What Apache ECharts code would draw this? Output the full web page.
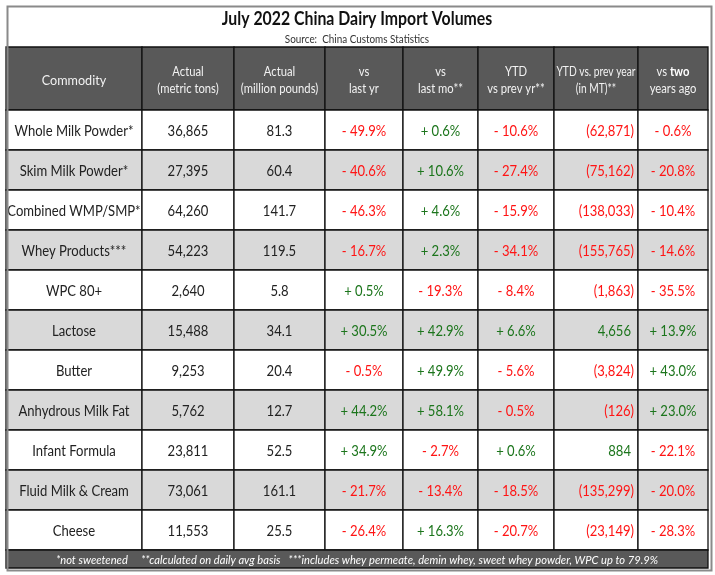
<!DOCTYPE html>
<html><head><meta charset="utf-8">
<script src="https://cdn.jsdelivr.net/npm/echarts@6/dist/echarts.min.js"></script>
<style>html,body{margin:0;padding:0;background:#fff}#c{width:715px;height:575px}</style>
</head><body><div id="c"></div>
<script>
// ---------- DATA ----------
const titleText = 'July 2022 China Dairy Import Volumes';
const sourceText = 'Source:  China Customs Statistics';
const headers = ['Commodity', 'Actual\n(metric tons)', 'Actual\n(million pounds)', 'vs\nlast yr', 'vs\nlast mo**', 'YTD\nvs prev yr**', 'YTD vs. prev year\n(in MT)**', 'vs {b|two}\nyears ago'];
const commodities = ['Whole Milk Powder*', 'Skim Milk Powder*', 'Combined WMP/SMP*', 'Whey Products***', 'WPC 80+', 'Lactose', 'Butter', 'Anhydrous Milk Fat', 'Infant Formula', 'Fluid Milk & Cream', 'Cheese'];
const metricTons = [36865, 27395, 64260, 54223, 2640, 15488, 9253, 5762, 23811, 73061, 11553];
const millionPounds = [81.3, 60.4, 141.7, 119.5, 5.8, 34.1, 20.4, 12.7, 52.5, 161.1, 25.5];
const vsLastYr = [-49.9, -40.6, -46.3, -16.7, 0.5, 30.5, -0.5, 44.2, 34.9, -21.7, -26.4];
const vsLastMo = [0.6, 10.6, 4.6, 2.3, -19.3, 42.9, 49.9, 58.1, -2.7, -13.4, 16.3];
const ytdVsPrevYr = [-10.6, -27.4, -15.9, -34.1, -8.4, 6.6, -5.6, -0.5, 0.6, -18.5, -20.7];
const ytdVsPrevYearMT = [-62871, -75162, -138033, -155765, -1863, 4656, -3824, -126, 884, -135299, -23149];
const vsTwoYearsAgo = [-0.6, -20.8, -10.4, -14.6, -35.5, 13.9, 43.0, 23.0, -22.1, -20.0, -28.3];
const footnote = '*not sweetened     **calculated on daily avg basis   ***includes whey permeate, demin whey, sweet whey powder, WPC up to 79.9%';

// ---------- LAYOUT ----------
const colWidths = [136, 92, 91, 78, 75, 76, 84, 70];
const headerHeight = 63, rowHeight = 40, footerHeight = 18;
const colEdges = [0];
colWidths.forEach(w => colEdges.push(colEdges[colEdges.length - 1] + w));
const rowEdges = [0, headerHeight];
commodities.forEach(() => rowEdges.push(rowEdges[rowEdges.length - 1] + rowHeight));
rowEdges.push(rowEdges[rowEdges.length - 1] + footerHeight);
const totalW = colEdges[colEdges.length - 1];
const totalH = rowEdges[rowEdges.length - 1];

const FONT = "Lato, 'Open Sans', sans-serif";
const RED = '#ff1414', GREEN = '#1c751c', INK = '#222222';
const HEAD_FILL = '#595959', SHADE = '#d9d9d9';
const CONDENSE = 0.9;

const fmtInt = v => Math.abs(v).toLocaleString('en-US');
const fmtPct = v => (v < 0 ? '- ' : '+ ') + Math.abs(v).toFixed(1) + '%';

// ---------- CELLS ----------
const cells = [];
headers.forEach((h, c) => cells.push({ c0: c, c1: c + 1, r: 0, kind: 'head', text: h }));
const pctCols = [vsLastYr, vsLastMo, ytdVsPrevYr];
commodities.forEach((name, i) => {
  const r = i + 1;
  const fill = (i % 2 === 1) ? SHADE : '#ffffff';
  cells.push({ c0: 0, c1: 1, r, fill, text: name, color: INK });
  cells.push({ c0: 1, c1: 2, r, fill, text: fmtInt(metricTons[i]), color: INK });
  cells.push({ c0: 2, c1: 3, r, fill, text: millionPounds[i].toFixed(1), color: INK });
  pctCols.forEach((arr, k) => cells.push({ c0: 3 + k, c1: 4 + k, r, fill, text: fmtPct(arr[i]), color: arr[i] < 0 ? RED : GREEN }));
  const mt = ytdVsPrevYearMT[i];
  cells.push({ c0: 6, c1: 7, r, fill, align: 'right', text: mt < 0 ? '(' + fmtInt(mt) + ')' : fmtInt(mt), color: mt < 0 ? RED : GREEN, pad: mt < 0 ? 4 : 7 });
  cells.push({ c0: 7, c1: 8, r, fill, text: fmtPct(vsTwoYearsAgo[i]), color: vsTwoYearsAgo[i] < 0 ? RED : GREEN });
});
cells.push({ c0: 0, c1: colWidths.length, r: commodities.length + 1, kind: 'foot', text: footnote });

function textWidth(style) {
  const t = new echarts.graphic.Text({ style });
  return t.getBoundingRect().width;
}

function renderItem(params, api) {
  const d = cells[params.dataIndex];
  const p0 = api.coord([colEdges[d.c0], rowEdges[d.r]]);
  const p1 = api.coord([colEdges[d.c1], rowEdges[d.r + 1]]);
  const x = p0[0], y = p0[1], w = p1[0] - p0[0], h = p1[1] - p0[1];
  let fill = d.fill, textStyle, scale = CONDENSE, ty = y + h / 2 + 1;
  if (d.kind === 'head') {
    fill = HEAD_FILL;
    textStyle = {
      text: d.text, fill: '#f2f2f2', align: 'center', verticalAlign: 'middle',
      font: (d.c0 === 0 ? '14px ' : '12.5px ') + FONT, lineHeight: 17,
      rich: { b: { fontWeight: 'bold', fill: '#ffffff', fontSize: 12.5, fontFamily: FONT } }
    };
    scale = Math.min(CONDENSE, (w - 5) / textWidth(textStyle));
    ty = y + h / 2 + 2;
  } else if (d.kind === 'foot') {
    fill = HEAD_FILL;
    textStyle = { text: d.text, fill: '#ffffff', align: 'center', verticalAlign: 'middle', font: 'italic 12px ' + FONT };
    scale = 0.93;
  } else {
    textStyle = { text: d.text, fill: d.color, align: d.align || 'center', verticalAlign: 'middle', font: '14.5px ' + FONT };
  }
  const tx = (textStyle.align === 'right') ? x + w - d.pad : x + w / 2;
  return {
    type: 'group',
    children: [
      { type: 'rect', shape: { x, y, width: w, height: h }, style: { fill, stroke: '#111111', lineWidth: 1.3 } },
      { type: 'text', x: tx, y: ty, scaleX: scale, style: textStyle }
    ]
  };
}

const chart = echarts.init(document.getElementById('c'), null, { renderer: 'canvas' });
chart.setOption({
  animation: false,
  backgroundColor: '#ffffff',
  graphic: [
    { type: 'rect', left: 5, top: 4, shape: { width: 704, height: 564 },
      style: { fill: 'none', stroke: '#8a8a8a', lineWidth: 2 }, z: 100, silent: true },
    { type: 'text', x: 357, y: 19, scaleX: 0.88,
      style: { text: titleText, align: 'center', verticalAlign: 'middle', font: 'bold 18px ' + FONT, fill: '#111111' } },
    { type: 'text', x: 357, y: 39, scaleX: 0.9,
      style: { text: sourceText, align: 'center', verticalAlign: 'middle', font: '11px ' + FONT, fill: '#333333' } }
  ],
  grid: { left: 6, top: 47, width: totalW, height: totalH },
  xAxis: { type: 'value', min: 0, max: totalW, show: false },
  yAxis: { type: 'value', min: 0, max: totalH, inverse: true, show: false },
  series: [{
    type: 'custom', renderItem,
    data: cells.map(d => [d.c0, d.r]),
    clip: false
  }]
});
</script></body></html>
